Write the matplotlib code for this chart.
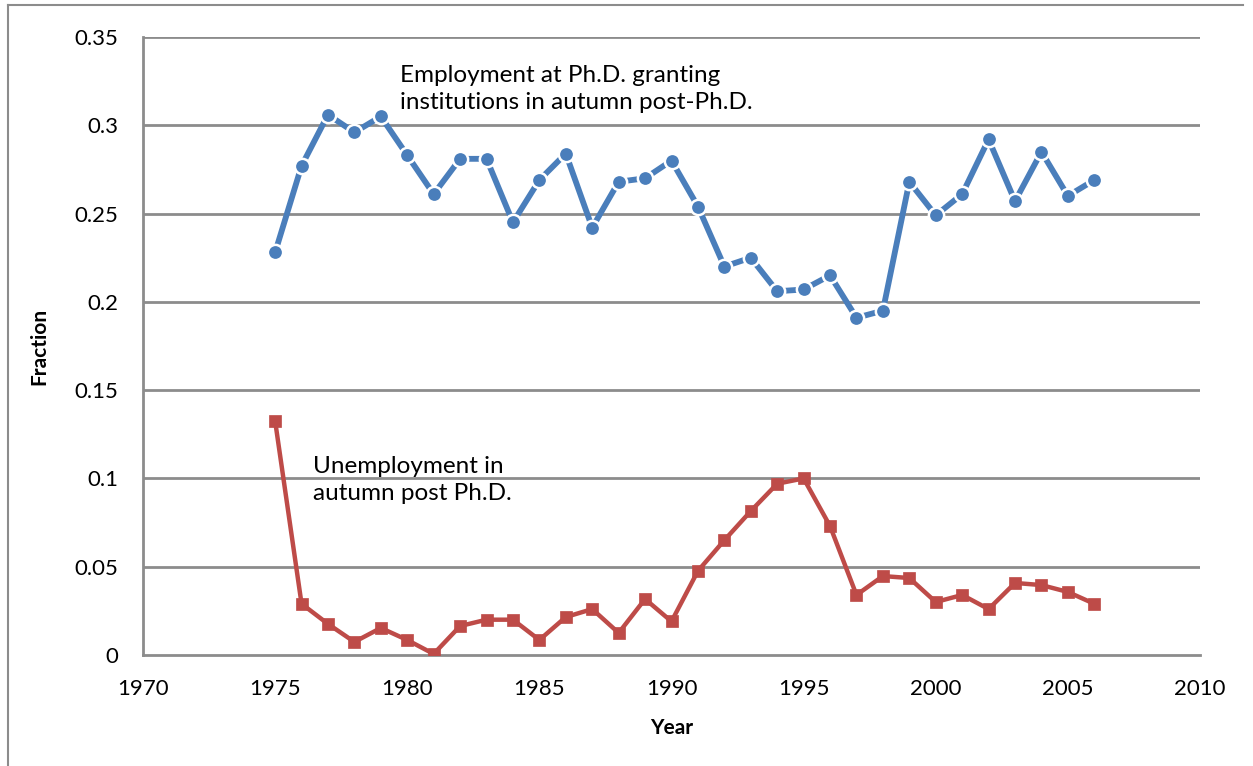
import matplotlib
matplotlib.use("Agg")
import matplotlib.pyplot as plt
from matplotlib.lines import Line2D

years = list(range(1975, 2007))
employment = [0.228, 0.277, 0.306, 0.296, 0.305, 0.283, 0.261, 0.281, 0.281, 0.245,
              0.269, 0.284, 0.242, 0.268, 0.270, 0.280, 0.254, 0.220, 0.225, 0.206,
              0.207, 0.215, 0.191, 0.195, 0.268, 0.249, 0.261, 0.292, 0.257, 0.285,
              0.260, 0.269]
unemployment = [0.1325, 0.029, 0.0176, 0.0074, 0.0153, 0.0085, 0.0006, 0.0164, 0.020, 0.020,
                0.0085, 0.0215, 0.026, 0.0125, 0.0317, 0.019, 0.0476, 0.065, 0.0815, 0.097,
                0.100, 0.073, 0.034, 0.0447, 0.0436, 0.030, 0.034, 0.026, 0.0408, 0.0396,
                0.0357, 0.029]
xticks = [1970, 1975, 1980, 1985, 1990, 1995, 2000, 2005, 2010]
yticks = [0, 0.05, 0.1, 0.15, 0.2, 0.25, 0.3, 0.35]
ytick_labels = ["0", "0.05", "0.1", "0.15", "0.2", "0.25", "0.3", "0.35"]

plt.rcParams['font.family'] = ['Lato', 'DejaVu Sans']

fig = plt.figure(figsize=(12.53, 7.66), dpi=100)
W, H = 1253, 766
ax = fig.add_axes([143 / W, 1 - 655 / H, (1200 - 143) / W, (655 - 37) / H])

grid_c = '#8c8c8c'
ax.set_xlim(1970, 2010)
ax.set_ylim(0, 0.35)
ax.set_yticks(yticks)
ax.set_yticklabels(ytick_labels)
ax.set_xticks(xticks)
ax.set_xticklabels([str(x) for x in xticks])
for y in yticks[1:]:
    ax.axhline(y, color=grid_c, lw=2, zorder=1)
for s in ['top', 'right']:
    ax.spines[s].set_visible(False)
for s in ['left', 'bottom']:
    ax.spines[s].set_color(grid_c)
    ax.spines[s].set_linewidth(2)
ax.tick_params(length=0, labelsize=16)
ax.tick_params(axis='x', pad=17)
ax.tick_params(axis='y', pad=18)

ax.plot(years, employment, color='#4a7ebb', lw=4.2, marker='o', ms=11,
        mfc='#4a7ebb', mec='white', mew=1.8, zorder=3, solid_capstyle='butt')
ax.plot(years, unemployment, color='#be4b48', lw=3.2, marker='s', ms=9,
        mfc='#be4b48', mec='#be4b48', mew=0.5, zorder=3)

ax.text(1979.73, 0.3205, "Employment at Ph.D. granting\ninstitutions in autumn post-Ph.D.",
        fontsize=17.5, ha='left', va='center', linespacing=1.32)
ax.text(1976.43, 0.099, "Unemployment in\nautumn post Ph.D.",
        fontsize=17.5, ha='left', va='center', linespacing=1.32)

ax.set_xlabel("Year", fontsize=15, fontweight='bold', labelpad=14)
ax.set_ylabel("Fraction", fontsize=15, fontweight='bold', labelpad=18)

# outer chart border
fig.add_artist(Line2D([8 / W, 1243 / W], [1 - 5 / H, 1 - 5 / H], color=grid_c, lw=1.5))
fig.add_artist(Line2D([8 / W, 8 / W], [1 - 5 / H, 0], color=grid_c, lw=1.5))

fig.savefig("out.png", dpi=100)
